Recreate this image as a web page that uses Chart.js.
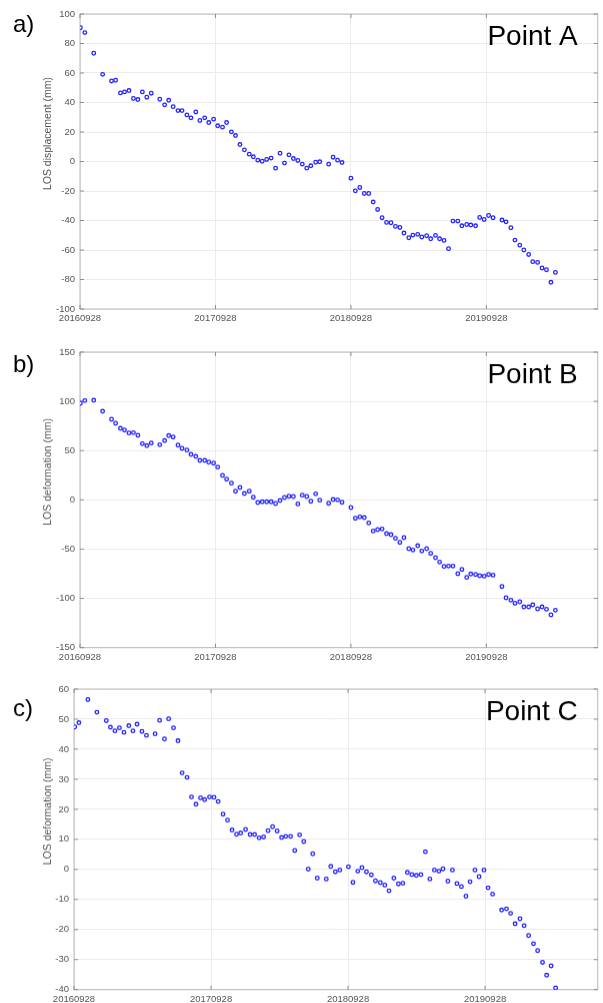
<!DOCTYPE html>
<html>
<head>
<meta charset="utf-8">
<script src="https://cdn.jsdelivr.net/npm/chart.js@4.4.1/dist/chart.umd.min.js"></script>
<style>
  html, body { margin: 0; padding: 0; background: #fff; overflow: hidden; }
  .panel { position: absolute; left: 0; width: 603px; }
</style>
</head>
<body>
<div class="panel" id="wrapA"><canvas id="chartA"></canvas></div>
<div class="panel" id="wrapB"><canvas id="chartB"></canvas></div>
<div class="panel" id="wrapC"><canvas id="chartC"></canvas></div>
<script>
'use strict';

// acquisition dates, as days after 20160928
let daysAB = [
  1, 13, 37, 61, 85, 96, 109, 120, 132, 144,
  156, 168, 180, 192, 215, 228, 239, 251, 264, 275,
  288, 299, 312, 323, 336, 347, 360, 371, 384, 395,
  408, 419, 431, 443, 456, 467, 479, 491, 503, 515,
  527, 539, 551, 563, 575, 587, 599, 611, 622, 635,
  646, 670, 682, 694, 706, 730, 742, 754, 766, 778,
  790, 802, 814, 826, 838, 850, 862, 873, 886, 897,
  910, 921, 934, 945, 958, 969, 981, 993, 1005, 1018,
  1029, 1042, 1053, 1066, 1077, 1089, 1101, 1113, 1137, 1148,
  1161, 1172, 1185, 1196, 1209, 1220, 1233, 1245, 1257, 1269,
  1281
];

let daysC = [
  2, 13, 37, 61, 86, 97, 109, 121, 133, 146,
  157, 168, 181, 193, 216, 228, 241, 252, 265, 277,
  288, 301, 313, 325, 337, 348, 361, 373, 384, 397,
  409, 421, 433, 444, 457, 469, 481, 493, 505, 517,
  529, 541, 553, 564, 577, 588, 601, 612, 624, 636,
  648, 672, 684, 696, 708, 731, 743, 756, 767, 779,
  792, 803, 816, 828, 839, 852, 864, 876, 888, 900,
  912, 924, 936, 948, 960, 972, 983, 996, 1008, 1020,
  1032, 1044, 1055, 1068, 1079, 1092, 1103, 1115, 1139, 1152,
  1163, 1175, 1188, 1199, 1211, 1224, 1235, 1248, 1259, 1271,
  1283
];

// LOS values (mm)
let valuesA = [
  90.7, 87.4, 73.4, 59.1, 54.6, 55.1, 46.5, 47.2, 48.1, 42.7,
  42.0, 47.2, 43.6, 46.3, 42.2, 38.4, 41.5, 37.2, 34.5, 34.5,
  31.6, 29.6, 33.6, 27.8, 29.6, 26.4, 28.7, 24.2, 23.3, 26.4,
  20.1, 17.6, 11.5, 7.9, 5.0, 3.2, 0.9, 0.2, 1.4, 2.3,
  -4.5, 5.6, -1.1, 4.5, 2.0, 0.7, -1.8, -4.5, -2.9, -0.5,
  -0.2, -1.8, 2.9, 0.9, -0.7, -11.3, -19.9, -17.6, -21.7, -21.7,
  -27.5, -32.5, -38.1, -41.3, -41.5, -44.0, -44.7, -48.5, -51.7, -49.9,
  -49.4, -51.2, -50.3, -52.4, -50.1, -52.4, -53.5, -59.1, -40.4, -40.4,
  -43.6, -42.7, -43.1, -43.6, -37.9, -39.3, -36.6, -38.1, -39.7, -40.9,
  -44.9, -53.3, -56.7, -60.0, -63.0, -67.9, -68.4, -72.2, -73.4, -81.9,
  -75.2
];

let valuesB = [
  98.1, 100.8, 101.1, 89.9, 81.8, 77.7, 72.6, 70.9, 67.9, 68.2,
  65.5, 57.0, 55.0, 57.7, 56.0, 60.1, 65.2, 63.8, 55.6, 52.3,
  50.6, 46.1, 44.1, 40.0, 40.0, 38.3, 37.3, 33.3, 24.8, 21.0,
  17.0, 8.8, 12.6, 6.4, 8.8, 2.7, -2.7, -2.0, -2.0, -2.0,
  -3.7, -0.7, 2.4, 3.7, 3.4, -4.1, 4.8, 3.4, -1.4, 6.1,
  -0.3, -3.4, 0.3, 0.0, -2.4, -7.8, -18.7, -17.3, -18.0, -23.4,
  -31.6, -30.2, -29.5, -34.3, -35.3, -39.0, -43.1, -38.3, -49.5, -50.9,
  -46.5, -51.9, -49.5, -54.3, -58.7, -63.1, -67.5, -67.2, -67.2, -75.0,
  -70.6, -78.7, -75.3, -75.7, -77.0, -77.4, -75.7, -76.4, -87.9, -99.4,
  -101.8, -104.9, -103.5, -108.6, -108.6, -106.6, -110.6, -108.6, -111.0, -116.7,
  -112.0
];

let valuesC = [
  47.4, 48.8, 56.5, 52.3, 49.5, 47.3, 46.1, 47.1, 45.6, 47.8,
  46.1, 48.3, 45.9, 44.6, 45.1, 49.6, 43.4, 50.1, 47.1, 42.8,
  32.1, 30.6, 24.1, 21.7, 23.8, 23.2, 24.1, 24.0, 22.6, 18.4,
  16.4, 13.1, 11.7, 12.1, 13.3, 11.6, 11.6, 10.5, 10.8, 12.9,
  14.2, 12.8, 10.6, 11.0, 11.0, 6.3, 11.5, 9.3, 0.1, 5.2,
  -2.9, -3.2, 1.0, -0.8, -0.2, 0.9, -4.3, -0.6, 0.6, -0.8,
  -1.8, -3.8, -4.4, -5.2, -7.1, -2.9, -4.8, -4.6, -1.0, -1.7,
  -2.0, -1.7, 5.9, -3.2, -0.2, -0.6, 0.2, -3.9, -0.2, -4.7,
  -5.7, -8.9, -4.1, -0.2, -2.4, -0.2, -6.1, -8.2, -13.5, -13.1,
  -14.6, -18.1, -16.4, -18.7, -22.0, -24.7, -27.0, -30.9, -35.2, -32.1,
  -39.4
];

// x ticks
let tickDays = [0, 365, 730, 1095];
let tickLabels = ['20160928', '20170928', '20180928', '20190928'];
let lastDay = 1395;

// y ranges: min, max, step
let yAxisA = [-100, 100, 20];
let yAxisB = [-150, 150, 50];
let yAxisC = [-40, 60, 10];

let panelLabels = ['a)', 'b)', 'c)'];
let pointNames = ['Point A', 'Point B', 'Point C'];
let yTitles = ['LOS displacement (mm)', 'LOS deformation (mm)', 'LOS deformation (mm)'];

const FONT = '"Liberation Sans", Arial, Helvetica, sans-serif';
const PAD_TOP = 12;
const PAD_BOTTOM = 18;

// plot box of each panel on the page
let panels = [
  { id: 'A', left: 80, top: 14, bottom: 309, right: 601.7, labelY: 32 },
  { id: 'B', left: 80, top: 352, bottom: 646.7, right: 601.7, labelY: 372 },
  { id: 'C', left: 74, top: 689.3, bottom: 989, right: 601.7, labelY: 716 }
];

let decor = {
  id: 'decor',
  beforeDatasetsDraw( chart ) {
    let ctx = chart.ctx;
    let a = chart.chartArea;
    let xs = chart.scales.x;
    let ys = chart.scales.y;
    ctx.save();
    ctx.strokeStyle = '#b9b9b9';
    ctx.lineWidth = 1;
    ctx.strokeRect( a.left, a.top, a.right - a.left, a.bottom - a.top );

    // inward tick marks on all four sides
    ctx.strokeStyle = '#8c8c8c';
    ctx.beginPath();
    xs.ticks.forEach( t => {
      let px = xs.getPixelForValue( t.value );
      ctx.moveTo( px, a.bottom );
      ctx.lineTo( px, a.bottom - 4 );
      ctx.moveTo( px, a.top );
      ctx.lineTo( px, a.top + 4 );
    } );
    ys.ticks.forEach( t => {
      let py = ys.getPixelForValue( t.value );
      ctx.moveTo( a.left, py );
      ctx.lineTo( a.left + 4, py );
      ctx.moveTo( a.right, py );
      ctx.lineTo( a.right - 4, py );
    } );
    ctx.stroke();
    ctx.restore();
  },
  afterDraw( chart, args, opts ) {
    let ctx = chart.ctx;
    let a = chart.chartArea;
    ctx.save();

    // y title, sits a bit above the middle as in the figure
    ctx.translate( 48, ( a.top + a.bottom ) / 2 - 28 );
    ctx.rotate( -Math.PI / 2 );
    ctx.font = '10.5px ' + FONT;
    ctx.fillStyle = '#555';
    ctx.textAlign = 'center';
    ctx.textBaseline = 'middle';
    ctx.fillText( opts.yTitle, 0, 0 );
    ctx.setTransform( 1, 0, 0, 1, 0, 0 );

    ctx.fillStyle = '#000';
    ctx.textBaseline = 'alphabetic';
    ctx.textAlign = 'left';
    ctx.font = '24px ' + FONT;
    ctx.fillText( opts.label, 13, opts.labelY );

    ctx.textAlign = 'right';
    ctx.font = '28px ' + FONT;
    ctx.fillText( opts.name, a.right - 20, a.top + 31 );
    ctx.restore();
  }
};

function makePanel( p, idx, days, values, yAxis ) {
  let wrap = document.getElementById( 'wrap' + p.id );
  let offset = p.top - PAD_TOP;
  wrap.style.top = offset + 'px';
  wrap.style.height = ( p.bottom - p.top + PAD_TOP + PAD_BOTTOM ) + 'px';

  let tickFont = { family: FONT, size: 9.5 };

  new Chart( document.getElementById( 'chart' + p.id ), {
    type: 'scatter',
    data: {
      datasets: [{
        data: days.map( ( d, i ) => ( { x: d, y: values[i] } ) ),
        pointRadius: 1.8,
        pointBorderWidth: 1.3,
        pointBorderColor: 'rgb(35, 35, 255)',
        pointBackgroundColor: '#ffffff'
      }]
    },
    options: {
      animation: false,
      responsive: true,
      maintainAspectRatio: false,
      layout: { padding: { top: PAD_TOP, right: 603 - p.right, left: 0, bottom: 0 } },
      plugins: {
        legend: { display: false },
        tooltip: { enabled: false },
        decor: {
          yTitle: yTitles[idx],
          label: panelLabels[idx],
          labelY: p.labelY - offset,
          name: pointNames[idx]
        }
      },
      scales: {
        x: {
          type: 'linear',
          min: 0,
          max: lastDay,
          afterBuildTicks: s => { s.ticks = tickDays.map( v => ( { value: v } ) ); },
          afterFit: s => { s.height = PAD_BOTTOM; },
          grid: { color: '#ebebeb', drawTicks: false },
          border: { display: false },
          ticks: {
            autoSkip: false,
            maxRotation: 0,
            padding: 4,
            color: '#555',
            font: tickFont,
            callback: v => tickLabels[tickDays.indexOf( v )]
          }
        },
        y: {
          min: yAxis[0],
          max: yAxis[1],
          afterFit: s => { s.width = p.left; },
          grid: { color: '#ebebeb', drawTicks: false },
          border: { display: false },
          ticks: {
            stepSize: yAxis[2],
            padding: 5,
            color: '#555',
            font: tickFont
          }
        }
      }
    },
    plugins: [decor]
  } );
}

makePanel( panels[0], 0, daysAB, valuesA, yAxisA );
makePanel( panels[1], 1, daysAB, valuesB, yAxisB );
makePanel( panels[2], 2, daysC, valuesC, yAxisC );
</script>
</body>
</html>
